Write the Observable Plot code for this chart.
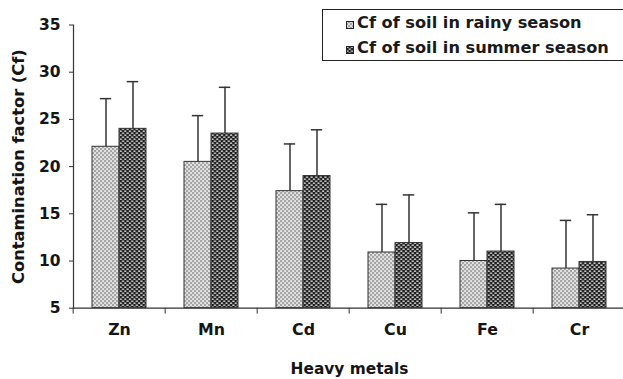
<!DOCTYPE html>
<html>
<head>
<meta charset="utf-8">
<script src="https://cdn.jsdelivr.net/npm/d3@7"></script>
<script src="https://cdn.jsdelivr.net/npm/@observablehq/plot@0.6"></script>
<style>
  html, body { margin: 0; padding: 0; background: #fff; overflow: hidden; }
  #wrap { position: relative; width: 623px; height: 379px; overflow: hidden; }
  .legend { position: absolute; left: 322px; top: 9px; width: 330px; height: 52px;
    box-sizing: border-box; border: 1.5px solid #222; background: #fff;
    font-family: "DejaVu Sans", sans-serif; font-weight: bold; font-size: 16.2px; color: #1a1a1a; }
  .legend .row { position: absolute; left: 23px; height: 22px; line-height: 22px; white-space: nowrap; }
  .legend svg { vertical-align: -1px; margin-right: 3px; }
</style>
</head>
<body>
<div id="wrap"></div>
<script>
const metals = ["Zn", "Mn", "Cd", "Cu", "Fe", "Cr"];
const seasons = ["Cf of soil in rainy season", "Cf of soil in summer season"];
const rainyValues = [22.1, 20.5, 17.4, 10.9, 10.0, 9.2];
const rainyErrors = [5.1, 4.9, 5.0, 5.1, 5.1, 5.1];
const summerValues = [24.0, 23.5, 19.0, 11.9, 11.0, 9.9];
const summerErrors = [5.0, 4.9, 4.9, 5.1, 5.0, 5.0];
const yTicks = [5, 10, 15, 20, 25, 30, 35];

const data = [];
metals.forEach((m, i) => {
  data.push({metal: m, season: seasons[0], value: rainyValues[i], err: rainyErrors[i]});
  data.push({metal: m, season: seasons[1], value: summerValues[i], err: summerErrors[i]});
});

const W = 623, H = 379, mL = 71, mR = -4;
const step = (W - mL - mR) / metals.length;
const ink = "#333";

const chart = Plot.plot({
  width: W, height: H,
  marginLeft: mL, marginRight: mR, marginTop: 24.5, marginBottom: 71.3,
  style: {fontFamily: "DejaVu Sans", fontWeight: "bold", fontSize: "15.5px", color: "#151515", background: "#fff", overflow: "visible"},
  fx: {domain: metals, padding: 0},
  x: {domain: seasons, paddingInner: 0, paddingOuter: 0.7, axis: null},
  y: {domain: [5, 35]},
  color: {domain: seasons, range: ["url(#pat-rainy)", "url(#pat-summer)"]},
  marks: [
    Plot.barY(data, {fx: "metal", x: "season", y1: 5, y2: "value", fill: "season", stroke: ink, strokeWidth: 1}),
    Plot.ruleX(data, {fx: "metal", x: "season", y1: "value", y2: d => d.value + d.err, stroke: ink, strokeWidth: 1.5}),
    Plot.tickY(data, {fx: "metal", x: "season", y: d => d.value + d.err, stroke: ink, strokeWidth: 1.5, insetLeft: 7.8, insetRight: 7.8}),
    Plot.ruleY([5], {stroke: ink, strokeWidth: 1.2}),
    Plot.frame({anchor: "left", facetAnchor: "left", stroke: ink, strokeWidth: 1.2}),
    Plot.axisY({ticks: yTicks, tickSize: 4, tickPadding: 9, stroke: ink, fontSize: 15.5, label: null}),
    Plot.axisY({ticks: [], tickSize: 0, label: "Contamination factor (Cf)", labelAnchor: "center", labelArrow: "none", labelOffset: 61, fontSize: 16.3}),
    Plot.axisFx({anchor: "bottom", tickSize: 6, dx: -step / 2, fill: "none", label: null, stroke: ink}),
    Plot.axisFx({anchor: "bottom", tickSize: 0, tickPadding: 16, label: null, fontSize: 15.8}),
    Plot.axisFx({anchor: "bottom", tickSize: 0, tickFormat: () => "", label: "Heavy metals", labelAnchor: "center", labelOffset: 66, fontSize: 15.4})
  ]
});

d3.select(chart).insert("defs", ":first-child").html(`
  <pattern id="pat-rainy" patternUnits="userSpaceOnUse" width="4" height="4">
    <rect width="4" height="4" fill="#b8b8b8"/>
    <rect x="0.3" y="0.3" width="1.5" height="1.5" fill="#ffffff"/>
    <rect x="2.3" y="2.3" width="1.5" height="1.5" fill="#ffffff"/>
    <rect x="2.5" y="0.5" width="1" height="1" fill="#6e6e6e"/>
    <rect x="0.5" y="2.5" width="1" height="1" fill="#6e6e6e"/>
  </pattern>
  <pattern id="pat-summer" patternUnits="userSpaceOnUse" width="4.6" height="4">
    <rect width="4.6" height="4" fill="#1a1a1a"/>
    <rect x="0.3" y="0.5" width="2.2" height="1.3" fill="#f0f0f0"/>
    <rect x="2.6" y="2.5" width="2.2" height="1.3" fill="#f0f0f0"/>
    <rect x="-2.0" y="2.5" width="2.2" height="1.3" fill="#f0f0f0"/>
  </pattern>`);

const wrap = document.getElementById("wrap");
wrap.appendChild(chart);

const legend = document.createElement("div");
legend.className = "legend";
const pats = ["pat-rainy", "pat-summer"];
const tops = [1.5, 27];
seasons.forEach((s, i) => {
  const row = document.createElement("div");
  row.className = "row";
  row.style.top = tops[i] + "px";
  row.innerHTML = `<svg width="8" height="8"><rect x="0.5" y="0.5" width="7" height="7" fill="url(#${pats[i]})" stroke="#222" stroke-width="1"/></svg>${s}`;
  legend.appendChild(row);
});
wrap.appendChild(legend);
</script>
</body>
</html>
